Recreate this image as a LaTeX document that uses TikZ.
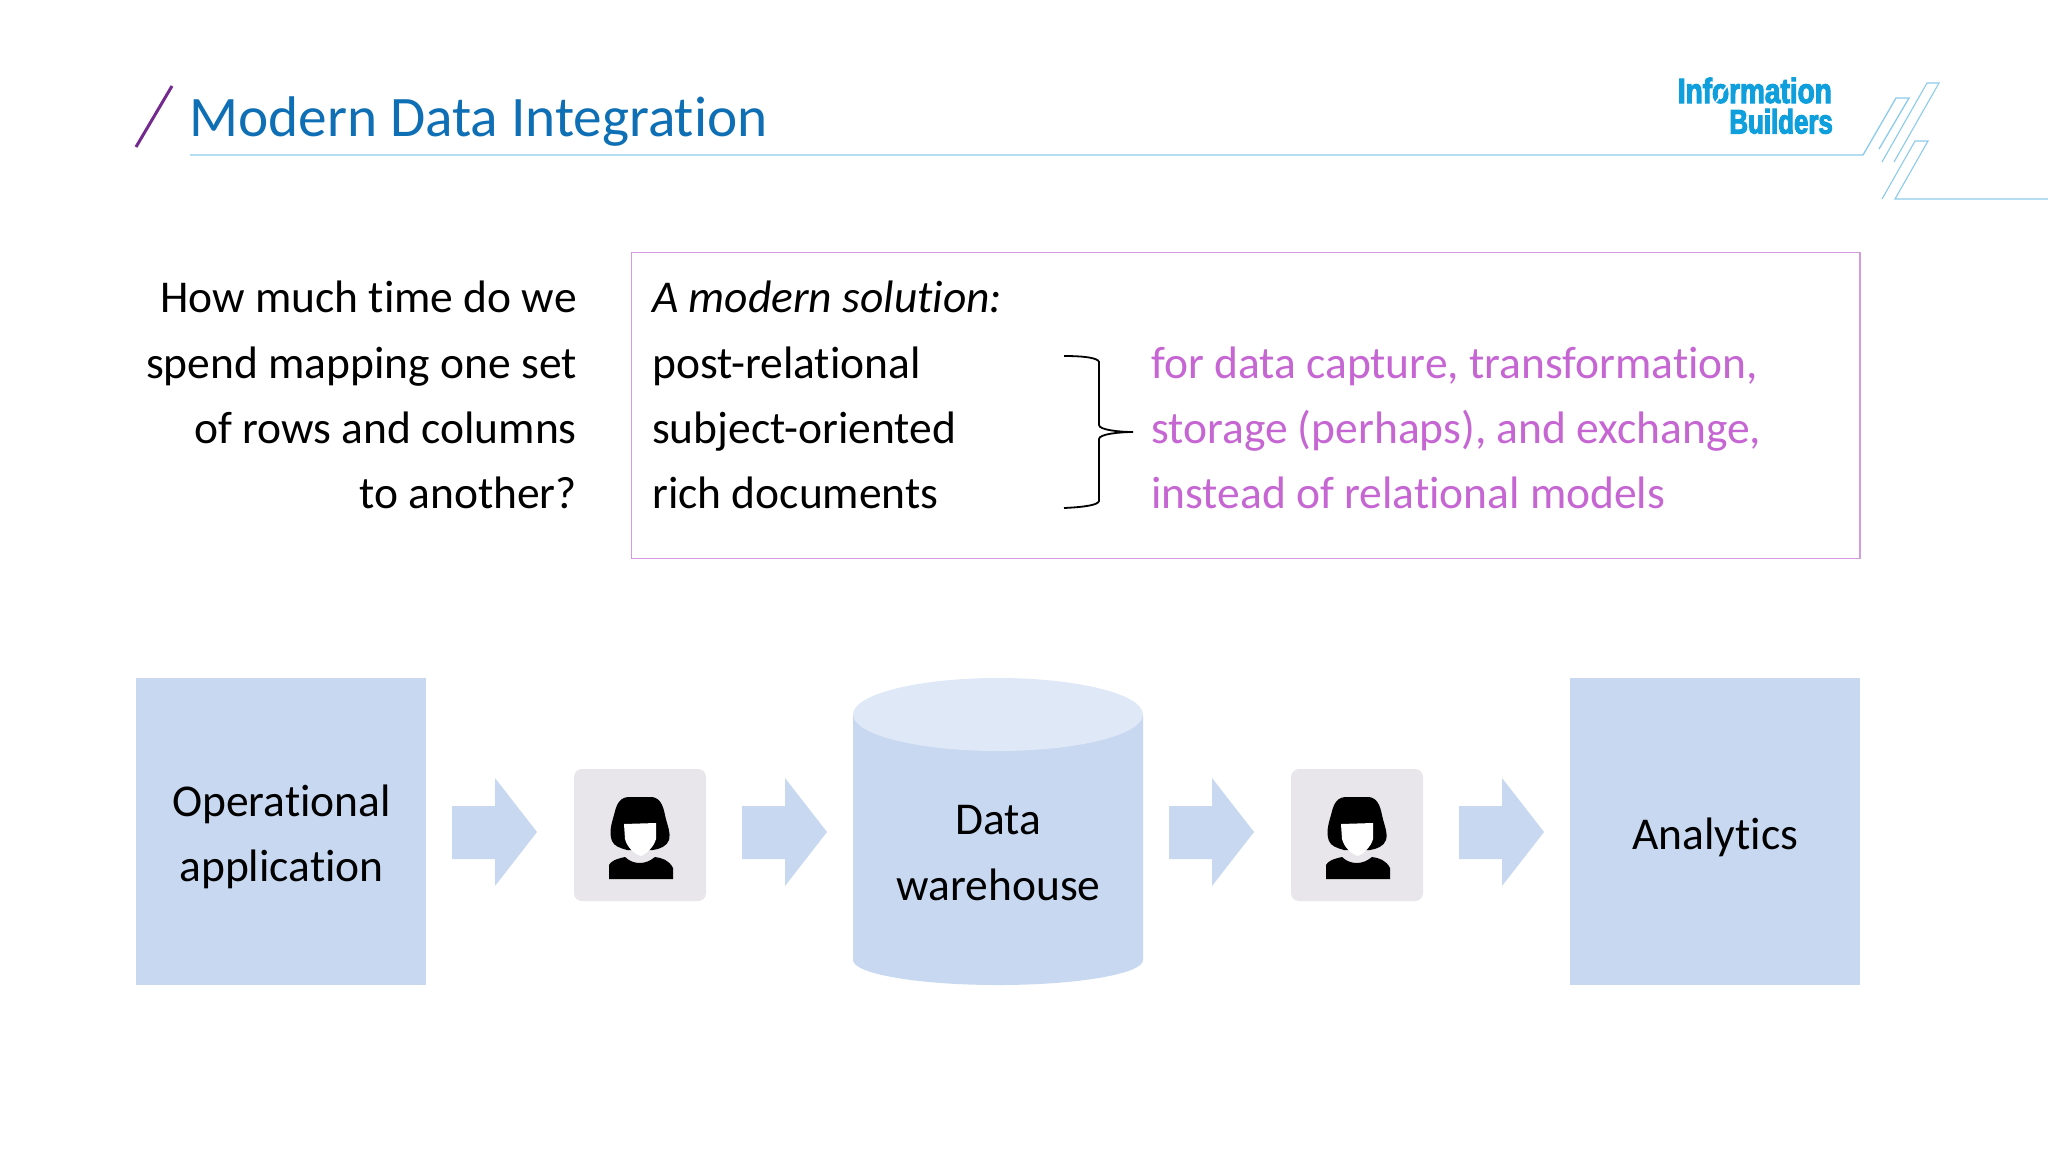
\documentclass[tikz,border=0pt]{standalone}
\usepackage{fontspec}
\setmainfont{Carlito}[Ligatures=CommonOff]
\newfontfamily\logofont[FakeStretch=0.80,FakeBold=3]{Liberation Sans Bold}
\newfontfamily\logofontb[FakeStretch=0.76,FakeBold=3]{Liberation Sans Bold}
\definecolor{titleblue}{HTML}{0F6FB5}
\definecolor{linkblue}{HTML}{8CCBEC}
\definecolor{logoblue}{HTML}{0E9FDC}
\definecolor{magentatext}{HTML}{C566D3}
\definecolor{boxline}{HTML}{D49BE0}
\definecolor{paleblue}{HTML}{C7D8F0}
\definecolor{palertop}{HTML}{DEE8F6}
\definecolor{tile}{HTML}{E8E6EA}
\definecolor{slashpurple}{HTML}{74298E}
\tikzset{
 body/.style={font=\fontsize{45.5}{50}\selectfont,text=black,inner sep=0pt},
 rightline/.style={body,anchor=base east},
 leftline/.style={body,anchor=base west},
 pinkline/.style={body,anchor=base west,text=magentatext},
 block/.style={fill=paleblue,draw=none,inner sep=0pt,minimum width=290pt,minimum height=307pt},
 blocktext/.style={inner sep=0pt,align=center,font=\fontsize{45.5}{65.5}\selectfont},
 flow/.style={fill=paleblue,draw=none},
 deco/.style={draw=linkblue,line width=1.1pt},
 pics/person/.style={code={
  \fill[tile,rounded corners=8pt] (-66,-66) rectangle (66,66);
  \fill[black] (-12,-38) .. controls (-22,-37) and (-24,-28) .. (-26,-20) .. controls (-29,-10) and (-31,-2) .. (-28,6) .. controls (-26,11) and (-20,13) .. (-13,15) -- (13,15) .. controls (20,14) and (27,11) .. (29,5) .. controls (31,-3) and (27,-10) .. (25,-20) .. controls (23,-30) and (20,-37) .. (12,-38) -- cycle;
  \fill[white] (-16,-11) -- (16,-12) -- (16,4) .. controls (14,12) and (6,19) .. (1,21) .. controls (-6,19) and (-13,12) .. (-15,4) -- cycle;
  \fill[black] (-31,44) -- (-31,30) .. controls (-29,26) and (-24,24) .. (-15,22) .. controls (-10,27) and (-4,28) .. (0,28) .. controls (5,28) and (10,26) .. (15,22) .. controls (22,23) and (29,25) .. (33,33) -- (33,44) -- cycle;
 }}
}
\newcommand{\flowarrow}[1]{\fill[flow] (#1,806) -- (#1+43,806) -- (#1+43,778) -- (#1+85,832) -- (#1+43,886) -- (#1+43,859) -- (#1,859) -- cycle;}
\begin{document}
\begin{tikzpicture}[x=1pt,y=-1pt]
\useasboundingbox[fill=white] (0,0) rectangle (2048,1152);
% header
\draw[slashpurple,line width=3pt] (136,147) -- (172,86);
\node[anchor=base west,inner sep=0pt,text=titleblue,font=\fontsize{57.3}{60}\selectfont] (title) at (189,136) {Modern Data Integration};
\draw[deco,line width=1.3pt] (190,155) -- (1863,155) -- (1896,98) -- (1909,98) -- (1879,149);
\draw[deco] (1882,162) -- (1927,83) -- (1939,83) -- (1894,162);
\draw[deco] (1882,199) -- (1915,141) -- (1928,141) -- (1895,199) -- (2048,199);
\node[anchor=base east,inner sep=0pt,text=logoblue,font=\logofont\fontsize{35}{35}\selectfont] (logoa) at (1832,103) {Information};
\draw[white,line width=1.6pt] (1716,102) -- (1731,80);
\node[anchor=base east,inner sep=0pt,text=logoblue,font=\logofontb\fontsize{34}{35}\selectfont] (logob) at (1833,133.5) {Builders};
% question
\node[rightline] (q1) at (577,312) {How much time do we};
\node[rightline] (q2) at (577,378) {spend mapping one set};
\node[rightline] (q3) at (577,443) {of rows and columns};
\node[rightline] (q4) at (577,508.5) {to another?};
% solution box
\node[draw=boxline,line width=1.1pt,inner sep=0pt,minimum width=1228.5pt,minimum height=306.5pt] (solution) at (1245.7,405.5) {};
\node[leftline,font=\fontsize{45.5}{50}\selectfont\itshape] (s0) at (652,312) {A modern solution:};
\node[leftline] (s1) at (652,378) {post-relational};
\node[leftline] (s2) at (652,443) {subject-oriented};
\node[leftline] (s3) at (652,508.5) {rich documents};
\draw[black,line width=1.8pt] (1064,356) .. controls (1085,356) and (1098,358) .. (1099,362) -- (1099,425) .. controls (1099,430) and (1120,432) .. (1133,432) .. controls (1120,432) and (1099,434) .. (1099,439) -- (1099,501) .. controls (1098,505) and (1085,507) .. (1064,508);
\node[pinkline] (p1) at (1151,378) {for data capture, transformation,};
\node[pinkline] (p2) at (1151,443) {storage (perhaps), and exchange,};
\node[pinkline] (p3) at (1151,508.5) {instead of relational models};
% flow
\node[block] (op) at (281,831.5) {};
\node[blocktext] (opt) at (281.5,837) {Operational\\application};
\node[block] (an) at (1715,831.5) {};
\node[blocktext] (ant) at (1715.5,837) {Analytics};
\fill[paleblue] (853,715) -- (853,960) arc[x radius=145,y radius=25,start angle=180,end angle=0] -- (1143,715) -- cycle;
\fill[palertop] (998,714.5) ellipse[x radius=145,y radius=36.5];
\node[blocktext] (dw) at (998.5,853) {Data\\warehouse};
\flowarrow{452}
\pic (p1i) at (640,835) {person};
\flowarrow{742}
\flowarrow{1169}
\pic (p2i) at (1357,835) {person};
\flowarrow{1459}
\end{tikzpicture}
\end{document}
